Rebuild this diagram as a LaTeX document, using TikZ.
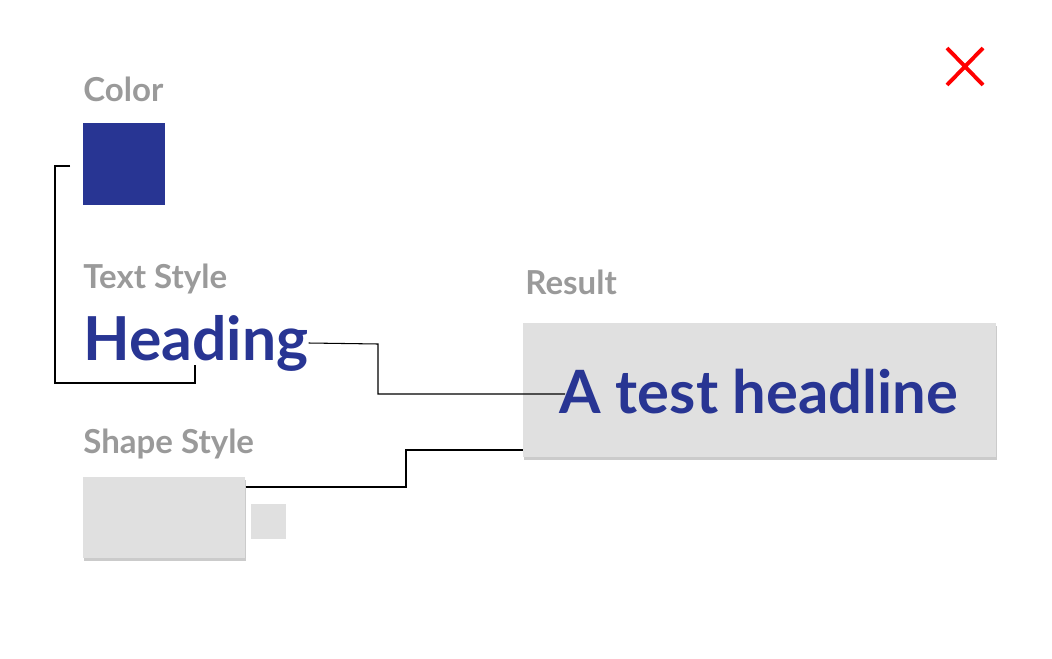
\documentclass[tikz,border=0pt]{standalone}
\usepackage{fontspec}
\setmainfont{Lato}
\usetikzlibrary{positioning,shadows}
\definecolor{navy}{HTML}{283593}
\definecolor{labelgray}{HTML}{9A9A9A}
\definecolor{boxgray}{HTML}{E0E0E0}
\tikzset{
    caption/.style = {anchor=north west, inner sep=0pt, text=labelgray,
        font=\fontsize{18.8}{22}\selectfont\bfseries},
    swatch/.style = {fill=navy, draw=none},
    shapebox/.style = {fill=boxgray, draw=none,
        drop shadow={fill=black!45, shadow xshift=0.5pt, shadow yshift=-1.5pt, opacity=.45}},
    link/.style = {draw=black, line width=0.6pt},
}
\begin{document}
\begin{tikzpicture}[x=0.02cm,y=-0.02cm]
		\useasboundingbox (0,0) rectangle (1052,659);
		% red close mark
		\draw [red, line width=2.2pt] (947,48) -- (983,85) (983,48) -- (947,85);
		% color
		\node [caption] (colorlbl) at (83,77) {Color};
		\fill [swatch] (83,123) rectangle (165,205);
		\coordinate (colorpt) at (70,166);
		% text style
		\node [caption] (textlbl) at (83,264) {Text Style};
		\node [anchor=west, inner sep=0pt, text=navy,
		    font=\fontsize{34.5}{38}\selectfont\bfseries] (heading) at (83,343) {Heading};
		\coordinate (headpt) at (195,365);
		% shape style
		\node [caption] (shapelbl) at (83,429) {Shape Style};
		\node [shapebox, minimum width=162*0.02cm, minimum height=81*0.02cm,
		    anchor=north west] (shapebig) at (83,477) {};
		\node [fill=boxgray, minimum size=35*0.02cm, inner sep=0pt,
		    anchor=north west] (shapesmall) at (251,504) {};
		% result
		\node [caption] (resultlbl) at (525,270) {Result};
		\node [shapebox, minimum width=473*0.02cm, minimum height=134*0.02cm,
		    anchor=north west] (result) at (523,323) {};
		\node [text=navy, inner sep=0pt, font=\fontsize{34}{36}\selectfont\bfseries]
		    (headline) at (759,392) {A test headline};
		% connecting lines
		\draw [link] (colorpt) -- (55,166) -- (55,383) -- (195,383) -- (headpt);
		\draw [link] (heading.east) -- (378,344) -- (378,394) -- (565,394);
		\draw [link] (shapebig.north east |- 0,487) -- (406,487) -- (406,450) -- (result.west |- 0,450);
	\end{tikzpicture}
\end{document}
